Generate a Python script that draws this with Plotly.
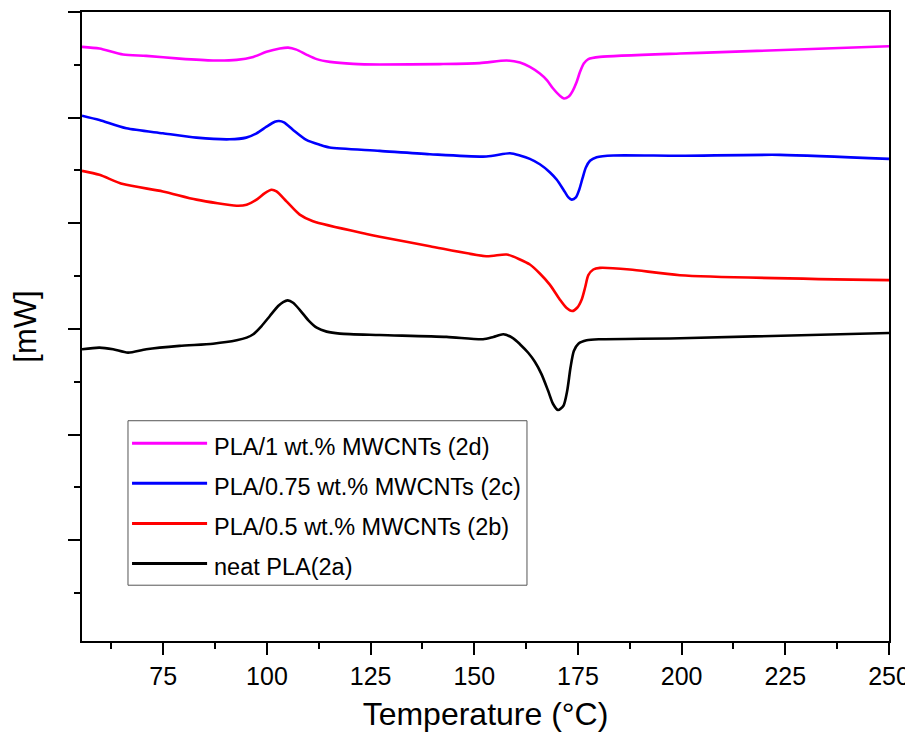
import plotly.graph_objects as go

# ---- data (temperature in °C, heat flow in mW, curves offset vertically) ----
names = ["PLA/1 wt.% MWCNTs (2d)", "PLA/0.75 wt.% MWCNTs (2c)",
         "PLA/0.5 wt.% MWCNTs (2b)", "neat PLA(2a)"]
colors = ["#ff00ff", "#0000ff", "#ff0000", "#000000"]

t_2d = [55.4, 59.6, 65.3, 70.9, 78.9, 87.0, 92.7, 96.7, 99.9, 103.1, 105.1, 107.1, 109.5,
        112.0, 115.2, 120.8, 127.2, 141.7, 151.3, 157.8, 161.0, 163.4, 165.8, 167.5, 169.0,
        170.7, 171.6, 172.7, 173.7, 174.7, 175.5, 176.4, 177.5, 180.3, 199.6, 204.4, 250.0]
hf_2d = [5.670, 5.654, 5.597, 5.585, 5.559, 5.541, 5.547, 5.575, 5.623, 5.654, 5.663, 5.644,
         5.597, 5.554, 5.528, 5.509, 5.503, 5.507, 5.516, 5.541, 5.522, 5.481, 5.418, 5.356,
         5.276, 5.205, 5.182, 5.198, 5.252, 5.340, 5.434, 5.512, 5.554, 5.575, 5.607, 5.613,
         5.676]

t_2c = [55.4, 59.6, 66.1, 74.9, 83.0, 91.0, 95.0, 97.5, 99.9, 101.9, 102.9, 104.1, 106.3,
        109.5, 112.8, 115.1, 127.2, 139.3, 152.9, 158.6, 161.0, 163.4, 165.8, 168.2, 169.9,
        171.5, 172.7, 173.5, 174.5, 175.3, 176.1, 176.9, 177.9, 179.5, 183.5, 199.6, 223.7,
        250.0]
hf_2c = [5.019, 4.978, 4.899, 4.852, 4.811, 4.795, 4.811, 4.852, 4.915, 4.962, 4.969, 4.956,
         4.884, 4.790, 4.742, 4.717, 4.686, 4.654, 4.632, 4.663, 4.642, 4.610, 4.559, 4.484,
         4.412, 4.318, 4.245, 4.224, 4.245, 4.318, 4.427, 4.528, 4.592, 4.625, 4.642, 4.639,
         4.648, 4.610]

t_2b = [55.4, 59.6, 65.3, 74.9, 83.0, 92.7, 95.1, 97.5, 99.5, 101.1, 102.3, 104.7, 107.9,
        111.1, 124.0, 127.2, 139.3, 152.9, 157.8, 161.0, 163.4, 165.8, 168.2, 170.6, 172.2,
        173.6, 174.8, 175.9, 176.7, 177.5, 178.7, 180.3, 187.5, 199.6, 250.0]
hf_2b = [4.497, 4.459, 4.371, 4.302, 4.224, 4.167, 4.176, 4.224, 4.286, 4.318, 4.302, 4.208,
         4.082, 4.019, 3.899, 3.873, 3.783, 3.689, 3.705, 3.658, 3.610, 3.525, 3.420, 3.280,
         3.201, 3.170, 3.201, 3.280, 3.390, 3.509, 3.563, 3.578, 3.563, 3.509, 3.462]

t_2a = [55.4, 59.6, 62.9, 66.5, 70.9, 78.9, 87.0, 92.7, 95.1, 96.7, 98.7, 100.7, 102.7,
        103.9, 105.0, 106.3, 108.0, 110.0, 112.0, 114.4, 117.6, 127.2, 143.3, 152.1, 154.6,
        157.0, 159.4, 161.0, 163.0, 164.6, 166.2, 167.8, 169.0, 170.2, 171.5, 172.4, 173.2,
        174.0, 175.1, 177.1, 180.3, 199.6, 250.0]
hf_2a = [2.808, 2.824, 2.808, 2.776, 2.808, 2.840, 2.861, 2.893, 2.918, 2.950, 3.028, 3.123,
         3.217, 3.255, 3.271, 3.248, 3.177, 3.082, 3.012, 2.975, 2.956, 2.943, 2.925, 2.903,
         2.925, 2.950, 2.912, 2.856, 2.775, 2.690, 2.573, 2.415, 2.290, 2.233, 2.274, 2.415,
         2.635, 2.792, 2.861, 2.893, 2.903, 2.912, 2.962]

x_ticks = [75, 100, 125, 150, 175, 200, 225, 250]

series_t = [t_2d, t_2c, t_2b, t_2a]
series_hf = [hf_2d, hf_2c, hf_2b, hf_2a]

FONT = "Arial, Liberation Sans, sans-serif"

fig = go.Figure()
for name, col, xs, ys in zip(names, colors, series_t, series_hf):
    fig.add_trace(go.Scatter(x=xs, y=ys, mode="lines", name=name,
                             line=dict(color=col, width=2.6, shape="spline", smoothing=0.7),
                             showlegend=False))

# manual legend (long line samples, as in the original)
lx0, lx1, tx = 0.062, 0.155, 0.161
row0, row_step = 0.3143, 0.0637
fig.add_shape(type="rect", xref="paper", yref="paper", x0=0.057, x1=0.5514,
              y0=0.0887, y1=0.3502, line=dict(color="#555555", width=1), fillcolor="white")
for i, (name, col) in enumerate(zip(names, colors)):
    yy = row0 - i * row_step
    fig.add_shape(type="line", xref="paper", yref="paper", x0=lx0, x1=lx1, y0=yy, y1=yy,
                  line=dict(color=col, width=3))
    fig.add_annotation(xref="paper", yref="paper", x=tx, y=yy - 0.006, text=name,
                       showarrow=False, xanchor="left", yanchor="middle",
                       font=dict(family=FONT, size=23.5, color="black"))

# page has an 8px body margin: figure is sized so the plot frame lands where the original is
fig.update_layout(
    width=905, height=724,
    margin=dict(l=74, r=24, t=2, b=91),
    paper_bgcolor="white", plot_bgcolor="white",
    font=dict(family=FONT, color="black"),
    showlegend=False,
)
fig.update_xaxes(
    range=[55.4, 250], tickvals=x_ticks, ticks="outside", ticklen=12, tickwidth=2,
    tickcolor="black", showline=True, linecolor="black", linewidth=2, mirror=True,
    showgrid=False, zeroline=False, tickfont=dict(family=FONT, size=25),
    ticklabeloverflow="allow",
    minor=dict(dtick=25, tick0=62.5, ticks="outside", ticklen=6, tickwidth=2, tickcolor="black",
               showgrid=False),
    title=dict(text="Temperature (°C)", font=dict(family=FONT, size=32), standoff=17),
)
fig.update_yaxes(
    range=[0.047, 6], tickvals=[1, 2, 3, 4, 5, 6], showticklabels=False, ticks="outside",
    ticklen=12, tickwidth=2, tickcolor="black", showline=True, linecolor="black", linewidth=2,
    mirror=True, showgrid=False, zeroline=False,
    minor=dict(dtick=1, tick0=0.5, ticks="outside", ticklen=6, tickwidth=2, tickcolor="black",
               showgrid=False),
    title=dict(text="[mW]", font=dict(family=FONT, size=31), standoff=31),
)

fig.write_html("out.html")
